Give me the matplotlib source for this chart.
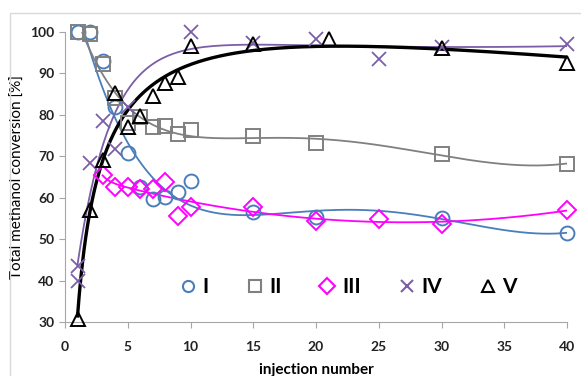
import numpy as np
import matplotlib
matplotlib.use('Agg')
import matplotlib.pyplot as plt
from matplotlib.patches import Rectangle

# data
x_I = [1, 2, 3, 4, 5, 6, 7, 8, 9, 10, 15, 20, 30, 40]
y_I = [100, 100, 93, 82, 70.8, 62.5, 59.8, 60.2, 61.3, 64, 56.6, 55.3, 55.2, 51.5]

x_II = [1, 2, 3, 4, 5, 6, 7, 8, 9, 10, 15, 20, 30, 40]
y_II = [100, 99.6, 92.3, 84, 78, 79.5, 77, 77.2, 75.3, 76.4, 74.8, 73.3, 70.5, 68.2]

x_III = [3, 4, 5, 6, 7, 8, 9, 10, 15, 20, 25, 30, 40]
y_III = [65.5, 62.5, 62.5, 62, 62.2, 63.9, 55.5, 57.8, 57.8, 54.5, 54.9, 53.6, 57]

x_IV = [1, 1, 2, 3, 4, 5, 10, 15, 20, 25, 30, 40]
y_IV = [43.6, 39.8, 68.5, 78.5, 71.8, 82, 100, 97.3, 98.3, 93.5, 96.5, 97.1]

x_V = [1, 2, 3, 4, 5, 6, 7, 8, 9, 10, 15, 21, 30, 40]
y_V = [30.8, 57, 69.2, 85.2, 77, 79.8, 84.5, 87.6, 89.2, 96.6, 97, 98.2, 96.2, 92.6]

labels = ['I', 'II', 'III', 'IV', 'V']


def baze(x, tau, deg, typ):
    # 'exp': a + b*exp(-x/tau) + polynom v x, 'log': polynom v ln(x)
    if typ == 'log':
        return np.column_stack([np.log(x) ** k for k in range(deg + 1)])
    return np.column_stack([np.exp(-x / tau)] + [(x / 40) ** k for k in range(deg + 1)])


def trend(x, y, deg, x_od, typ='exp'):
    # trendova krivka metodou nejmensich ctvercu, tau hledam na mrizce
    x = np.asarray(x, float)
    y = np.asarray(y, float)
    xs = np.linspace(x_od, 40, 300)
    best = None
    for tau in np.linspace(0.5, 12, 231):
        A = baze(x, tau, deg, typ)
        coef, *_ = np.linalg.lstsq(A, y, rcond=None)
        err = np.sum((A @ coef - y) ** 2)
        if best is None or err < best[0]:
            best = (err, tau, coef)
    _, tau, coef = best
    return xs, baze(xs, tau, deg, typ) @ coef


plt.rcParams['font.family'] = ['Lato', 'DejaVu Sans']

fig = plt.figure(figsize=(5.81, 3.76), dpi=100)
ax = fig.add_axes([65 / 581, 1 - 322 / 376, 502 / 581, 290 / 376])

# ramecek celeho grafu
fig.patches.append(Rectangle((10 / 581, -0.1), 1.2, 0.1 + 1 - 13 / 376, transform=fig.transFigure,
                             fill=False, edgecolor='#d9d9d9', lw=1))

# x, y, marker, barva, tloustka cary, stupen, od x, typ fitu
series = [
    (x_I, y_I, 'o', '#4a7ebb', 1.3, 3, 1, 'exp'),
    (x_II, y_II, 's', '#808080', 1.3, 3, 1, 'exp'),
    (x_III, y_III, 'D', '#ff00ff', 1.3, 3, 3, 'exp'),
    (x_IV, y_IV, 'x', '#7b5ea7', 1.3, 2, 1, 'exp'),
    (x_V, y_V, '^', '#000000', 2.4, 3, 1, 'log'),
]

for (x, y, m, c, lw, deg, x_od, typ), lab in zip(series, labels):
    xs, ys = trend(x, y, deg, x_od, typ)
    ax.plot(xs, ys, color=c, lw=lw, zorder=2)
    ms = 9 if m == 'D' else 10
    ax.plot(x, y, ls='none', marker=m, ms=ms, mfc='none', mec=c, mew=1.4 if m != 'x' else 1.3,
            clip_on=False, zorder=3)
    ax.plot([], [], ls='none', marker=m, ms=8, mfc='none', mec=c, mew=1.5, label=lab)

ax.set_xlim(0, 40)
ax.set_ylim(30, 100)
ax.set_xticks(np.arange(0, 41, 5))
ax.set_yticks(np.arange(30, 101, 10))
for s in ['top', 'right']:
    ax.spines[s].set_visible(False)
for s in ['left', 'bottom']:
    ax.spines[s].set_color('#a6a6a6')
ax.tick_params(colors='#a6a6a6', length=4, labelcolor='#222222', labelsize=10)
for t in ax.get_xticklabels() + ax.get_yticklabels():
    t.set_fontweight('bold')
ax.tick_params(axis='x', pad=10)

ax.set_ylabel('Total methanol conversion [%]', fontsize=11, labelpad=4)
ax.set_xlabel('injection number', fontsize=11, fontweight='bold', labelpad=7)

leg = ax.legend(loc='center', bbox_to_anchor=(0.56, 0.12), ncol=5, frameon=False,
                prop={'weight': 'bold', 'size': 15}, handletextpad=0.1, columnspacing=1.6,
                handlelength=1.2)

fig.savefig('out.png', dpi=100)
